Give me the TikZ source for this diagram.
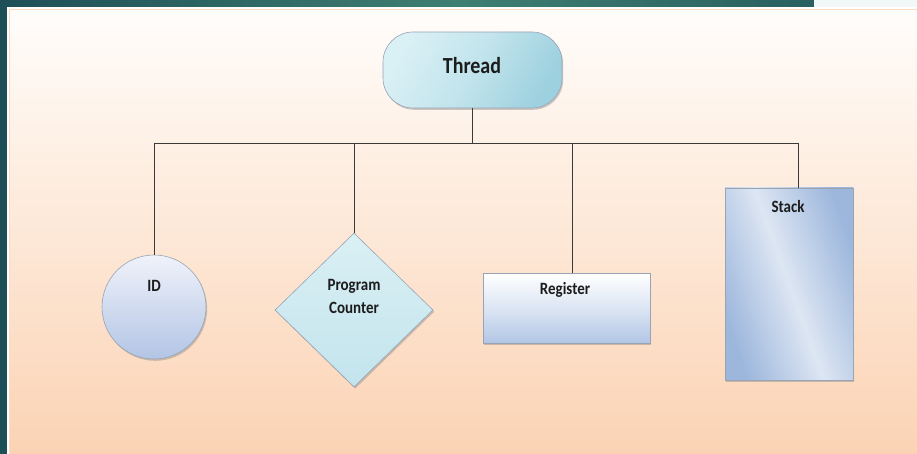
\documentclass[tikz,border=0pt]{standalone}
\usepackage{fontspec}
\setmainfont{Carlito}
\usetikzlibrary{shapes.geometric,shadows}

\definecolor{bandA}{HTML}{1E4F57}
\definecolor{bandB}{HTML}{3F7F72}
\definecolor{cornerLight}{HTML}{F2F8F8}
\definecolor{pageTop}{HTML}{FFFDFB}
\definecolor{pageBot}{HTML}{FBD3B4}
\definecolor{edge}{HTML}{98A4B4}
\definecolor{ink}{HTML}{1C1C1C}
\definecolor{wire}{HTML}{3A3A3A}
\definecolor{threadA}{HTML}{D9F0F5}
\definecolor{threadB}{HTML}{C2E4EC}
\definecolor{threadC}{HTML}{9ED1DF}
\definecolor{idTop}{HTML}{F0F2FA}
\definecolor{idBot}{HTML}{B3C5E5}
\definecolor{pcTop}{HTML}{DAF0F4}
\definecolor{pcBot}{HTML}{C3E4ED}
\definecolor{regBot}{HTML}{B2C6E5}
\definecolor{stackDark}{HTML}{9CB6DC}
\definecolor{stackLight}{HTML}{DDE6F3}

\newcommand{\tall}[1]{\scalebox{1}[1.15]{#1}}

\tikzset{
  shape base/.style={draw=edge, line width=0.6pt,
    drop shadow={shadow xshift=1.2pt, shadow yshift=-1.8pt, opacity=0.4}},
  lbl/.style={text=ink, font=\bfseries\fontsize{15}{18}\selectfont, align=center, inner sep=0pt},
  wireline/.style={draw=wire, line width=0.9pt},
}

\begin{document}
\begin{tikzpicture}[x=1pt, y=-1pt]
  \useasboundingbox (0,0) rectangle (917,454);

  % slide frame
  \shade[left color=bandA, right color=bandA!85!bandB, middle color=bandB] (0,0) rectangle (917,454);
  \fill[cornerLight] (814,0) rectangle (917,7);
  \fill[white] (7,7) rectangle (917,454);
  \shade[top color=pageTop, bottom color=pageBot] (10,10) rectangle (917,454);
  \draw[pageBot!80!white, line width=1pt] (9.5,454) -- (9.5,9.5) -- (917,9.5);

  % root
  \node[shape base, rectangle, rounded corners=30pt, minimum width=179pt, minimum height=76pt,
        shading=axis, left color=threadA, right color=threadC, middle color=threadB,
        shading angle=60] (thread) at (472.5,70) {};
  \node[text=ink, font=\bfseries\fontsize{20}{22}\selectfont, inner sep=0pt] (threadtxt) at (472,66) {\tall{Thread}};

  % children
  \node[shape base, circle, minimum size=104pt, inner sep=0pt,
        top color=idTop, bottom color=idBot] (id) at (154,307) {};
  \node[lbl] (idtxt) at (154,286) {\tall{ID}};

  \node[shape base, diamond, minimum width=158pt, minimum height=154pt, inner sep=0pt,
        top color=pcTop, bottom color=pcBot] (pc) at (354,310) {};
  \node[lbl] (pctxt1) at (354,286) {\tall{Program}};
  \node[lbl] (pctxt2) at (354,308) {\tall{Counter}};

  \node[shape base, rectangle, minimum width=167pt, minimum height=70pt, inner sep=0pt,
        top color=white, bottom color=regBot, middle color=regBot!45!white] (reg) at (566.5,308) {};
  \node[lbl] (regtxt) at (565,290) {\tall{Register}};

  \node[shape base, rectangle, minimum width=128pt, minimum height=192pt, inner sep=0pt,
        shading=axis, left color=stackDark, right color=stackDark,
        middle color=stackLight, shading angle=110] (stack) at (789,284) {};
  \node[lbl] (stacktxt) at (788,207) {\tall{Stack}};

  % connectors
  \coordinate (bus) at (472,143);
  \coordinate (regtop) at ([xshift=6pt]reg.north);
  \coordinate (stacktop) at ([xshift=9pt]stack.north);
  \draw[wireline] (thread.south) -- (thread.south |- bus);
  \draw[wireline] (id.north |- bus) -- (stacktop |- bus);
  \draw[wireline] (id.north |- bus) -- (id.north);
  \draw[wireline] (pc.north |- bus) -- (pc.north);
  \draw[wireline] (regtop |- bus) -- (regtop);
  \draw[wireline] (stacktop |- bus) -- (stacktop);
\end{tikzpicture}
\end{document}
